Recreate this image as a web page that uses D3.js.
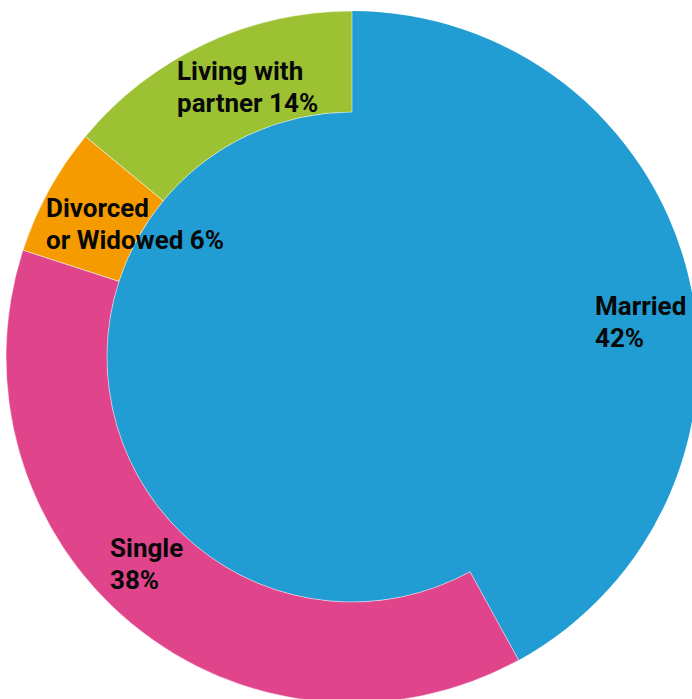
<!DOCTYPE html>
<html>
<head>
<meta charset="utf-8">
<script src="https://cdn.jsdelivr.net/npm/d3@7"></script>
<style>
  html, body { margin: 0; padding: 0; background: #fff; overflow: hidden; }
  svg text { font-family: Roboto, "Noto Sans", sans-serif; font-weight: 700; fill: #080808; }
</style>
</head>
<body>
<div id="chart"></div>
<script>
// Datos
const categories = ['Married', 'Single', 'Divorced or Widowed', 'Living with partner'];
const values = [42, 38, 6, 14];
const labelLines = [
    ['Married', '42%'],
    ['Single', '38%'],
    ['Divorced', 'or Widowed 6%'],
    ['Living with', 'partner 14%']
];
const colors = ['#219dd3', '#e0448b', '#f59b00', '#9cc133'];

// Layout
const width = 692;
const height = 699;
const cx = 352, cy = 357;
const outerR = 346, innerR = 245;
const fontSize = 26, lineGap = 32;
// posición de la primera línea de cada etiqueta
const labelPos = [[595, 315], [110, 557], [46, 217], [177, 80]];

const svg = d3.select('#chart')
    .append('svg')
    .attr('width', width)
    .attr('height', height);

const g = svg.append('g').attr('transform', `translate(${cx},${cy})`);

const pie = d3.pie().sort(null).value(d => d.value);
// Married llega hasta el centro, el resto es anillo
const arc = d3.arc()
    .innerRadius((d, i) => i === 0 ? 0 : innerR)
    .outerRadius(outerR);

const data = categories.map((c, i) => ({ name: c, value: values[i] }));

// Centro relleno con el color de Married
g.append('circle')
    .attr('r', innerR)
    .attr('fill', colors[0]);

// Dibujar sectores
g.selectAll('path')
    .data(pie(data))
    .enter().append('path')
    .attr('d', (d, i) => arc(d, i))
    .attr('fill', (d, i) => colors[i])
    .attr('stroke', (d, i) => i === 0 ? 'none' : '#fff')
    .attr('stroke-width', 0.5);

// Etiquetas
const label = svg.append('g')
    .selectAll('text')
    .data(labelLines)
    .enter().append('text')
    .attr('font-size', fontSize + 'px')
    .attr('x', (d, i) => labelPos[i][0])
    .attr('y', (d, i) => labelPos[i][1]);

label.selectAll('tspan')
    .data((d, i) => d.map(t => ({ t, i })))
    .enter().append('tspan')
    .attr('x', d => labelPos[d.i][0])
    .attr('dy', (d, j) => j === 0 ? 0 : lineGap)
    .text(d => d.t);
</script>
</body>
</html>
